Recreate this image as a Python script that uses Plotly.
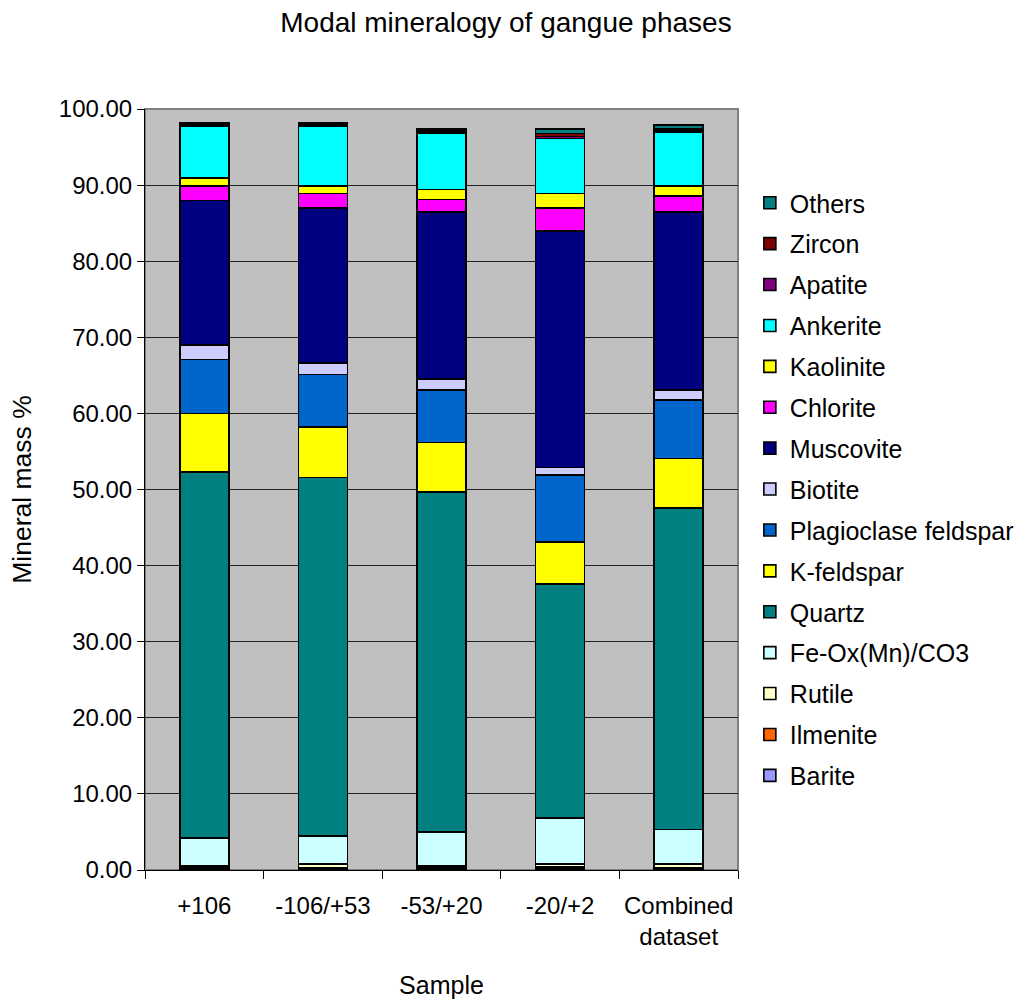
import plotly.graph_objects as go

samples = ["+106", "-106/+53", "-53/+20", "-20/+2", "Combined<br>dataset"]

# Mineral mass % per sample (bottom of stack first)
barite      = [0.1, 0.1, 0.1, 0.1, 0.1]
ilmenite    = [0.2, 0.2, 0.2, 0.3, 0.2]
rutile      = [0.2, 0.5, 0.2, 0.4, 0.5]
fe_ox       = [3.7, 3.7, 4.5, 6.0, 4.5]
quartz      = [48.1, 47.1, 44.7, 30.8, 42.3]
k_feldspar  = [7.7, 6.6, 6.5, 5.5, 6.5]
plagioclase = [7.1, 6.9, 6.9, 8.8, 7.7]
biotite     = [1.9, 1.5, 1.4, 1.0, 1.3]
muscovite   = [19.0, 20.4, 22.0, 31.1, 23.4]
chlorite    = [1.9, 1.9, 1.6, 3.0, 2.1]
kaolinite   = [1.0, 1.0, 1.3, 1.9, 1.3]
ankerite    = [6.9, 7.9, 7.4, 7.2, 7.1]
apatite     = [0.1, 0.1, 0.2, 0.3, 0.2]
zircon      = [0.1, 0.1, 0.2, 0.4, 0.2]
others      = [0.2, 0.2, 0.2, 0.6, 0.5]

series = [
    ("Barite", barite, "#9999FF"),
    ("Ilmenite", ilmenite, "#FF6600"),
    ("Rutile", rutile, "#FFFFCC"),
    ("Fe-Ox(Mn)/CO3", fe_ox, "#CCFFFF"),
    ("Quartz", quartz, "#008080"),
    ("K-feldspar", k_feldspar, "#FFFF00"),
    ("Plagioclase feldspar", plagioclase, "#0066CC"),
    ("Biotite", biotite, "#CCCCFF"),
    ("Muscovite", muscovite, "#000080"),
    ("Chlorite", chlorite, "#FF00FF"),
    ("Kaolinite", kaolinite, "#FFFF00"),
    ("Ankerite", ankerite, "#00FFFF"),
    ("Apatite", apatite, "#800080"),
    ("Zircon", zircon, "#800000"),
    ("Others", others, "#008080"),
]

FONT = "Liberation Sans, Arial, sans-serif"

fig = go.Figure()
n = len(series)
for i, (name, vals, color) in enumerate(series):
    fig.add_trace(go.Bar(
        name=name, x=samples, y=vals, legendgroup=name,
        legendrank=n - i,  # top of the stack listed first
        marker=dict(color=color, line=dict(color="black", width=1.6)),
    ))

fig.update_layout(
    width=1018, height=999,
    barmode="stack", bargap=0.587,
    paper_bgcolor="white", plot_bgcolor="#C0C0C0",
    margin=dict(l=145, r=280, t=109, b=129, autoexpand=False),
    font=dict(family=FONT, size=24, color="black"),
    title=dict(text="Modal mineralogy of gangue phases", x=0.497, xanchor="center",
               y=0.978, yanchor="middle", font=dict(size=28)),
    legend=dict(x=1.02, xanchor="left", y=0.5, yanchor="middle",
                traceorder="grouped", tracegroupgap=5.4,
                font=dict(size=25), bgcolor="rgba(0,0,0,0)"),
    showlegend=True,
)

fig.update_xaxes(
    title=dict(text="Sample", standoff=33, font=dict(size=25)),
    showline=True, linecolor="black", linewidth=1,
    ticks="outside", tickson="boundaries", ticklen=8, tickcolor="black",
    ticklabelstandoff=14, tickangle=0, automargin=False,
    showgrid=False,
)
fig.update_yaxes(
    title=dict(text="Mineral mass %", standoff=19, font=dict(size=26.5)),
    range=[0, 100], dtick=10, tickformat=".2f",
    showline=True, linecolor="black", linewidth=1,
    ticks="outside", ticklen=7, tickcolor="black",
    automargin=False,
    showgrid=True, gridcolor="#222222", gridwidth=1,
    zeroline=False,
)

# Plot area frame
fig.add_shape(type="rect", xref="x domain", yref="y domain", x0=0, y0=0, x1=1, y1=1,
              line=dict(color="#808080", width=2), layer="below")

fig.write_html("out.html")
